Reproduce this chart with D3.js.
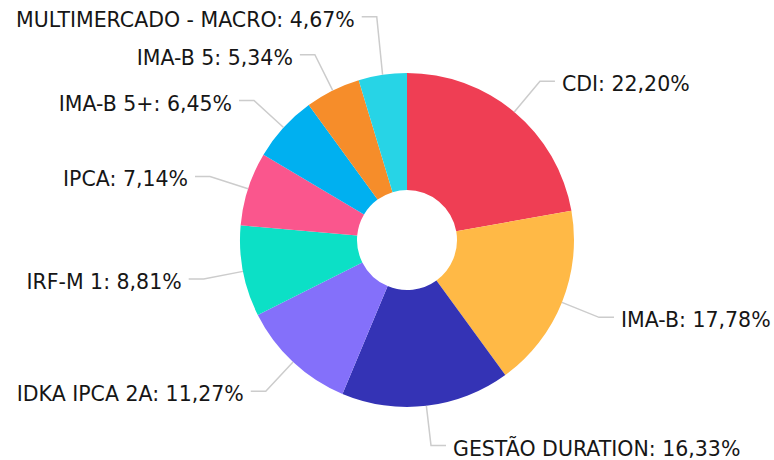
<!DOCTYPE html>
<html>
<head>
<meta charset="utf-8">
<script src="https://cdn.jsdelivr.net/npm/d3@7"></script>
<style>
  body { margin: 0; background: #fff; }
  text { font-family: "DejaVu Sans", Verdana, sans-serif; font-size: 20.5px; fill: #161616; }
</style>
</head>
<body>
<div id="vis1"></div>
<script>
const FRAME_WIDTH = 774;
const FRAME_HEIGHT = 460;
const CENTER = {x: 407, y: 240};
const OUTER_R = 167;
const INNER_R = 50;
const ELBOW_R = 207;
const LINE_LEN = 15;
const LABEL_GAP = 7;

// data
const categories = ["CDI", "IMA-B", "GESTÃO DURATION", "IDKA IPCA 2A", "IRF-M 1",
    "IPCA", "IMA-B 5+", "IMA-B 5", "MULTIMERCADO - MACRO"];
const values = [22.20, 17.78, 16.33, 11.27, 8.81, 7.14, 6.45, 5.34, 4.67];
const colors = ["#EF3E54", "#FFB946", "#3433B5", "#8470FA", "#0CE0C6",
    "#FA568D", "#00B0F0", "#F68D2A", "#27D4E6"];

const data = categories.map((c, i) => ({name: c, value: values[i], color: colors[i]}));

const FRAME = d3.select("#vis1")
    .append("svg")
    .attr("width", FRAME_WIDTH)
    .attr("height", FRAME_HEIGHT);

const g = FRAME.append("g")
    .attr("transform", "translate(" + CENTER.x + "," + CENTER.y + ")");

const pie = d3.pie().sort(null).value(d => d.value);
const arcs = pie(data);

const arc = d3.arc().innerRadius(INNER_R).outerRadius(OUTER_R);
const edgeArc = d3.arc().innerRadius(OUTER_R).outerRadius(OUTER_R);
const elbowArc = d3.arc().innerRadius(ELBOW_R).outerRadius(ELBOW_R);

g.selectAll("path.slice")
    .data(arcs)
    .enter()
    .append("path")
    .attr("class", "slice")
    .attr("d", arc)
    .style("fill", d => d.data.color);

// label positions, with a simple overlap push on each side
const labels = arcs.map(d => {
    const mid = (d.startAngle + d.endAngle) / 2;
    const p0 = edgeArc.centroid(d);
    const p1 = elbowArc.centroid(d);
    return {d: d, right: mid < Math.PI, p0: p0, x: p1[0], y: p1[1]};
});

const MIN_GAP = 38;
[true, false].forEach(side => {
    const group = labels.filter(l => l.right === side).sort((a, b) => b.y - a.y);
    for (let i = 1; i < group.length; i++) {
        if (group[i - 1].y - group[i].y < MIN_GAP) {
            group[i].y = group[i - 1].y - MIN_GAP;
        }
    }
});

g.selectAll("polyline")
    .data(labels)
    .enter()
    .append("polyline")
    .attr("points", l => {
        const ex = l.x;
        const endX = l.right ? ex + LINE_LEN : ex - LINE_LEN;
        return [l.p0, [ex, l.y], [endX, l.y]].map(p => p.join(",")).join(" ");
    })
    .style("fill", "none")
    .style("stroke", "#cccccc")
    .style("stroke-width", 1.5);

g.selectAll("text")
    .data(labels)
    .enter()
    .append("text")
    .attr("x", l => l.right ? l.x + LINE_LEN + LABEL_GAP : l.x - LINE_LEN - LABEL_GAP)
    .attr("y", l => l.y + 10)
    .attr("text-anchor", l => l.right ? "start" : "end")
    .text(l => l.d.data.name + ": " + l.d.data.value.toFixed(2).replace(".", ",") + "%");
</script>
</body>
</html>
